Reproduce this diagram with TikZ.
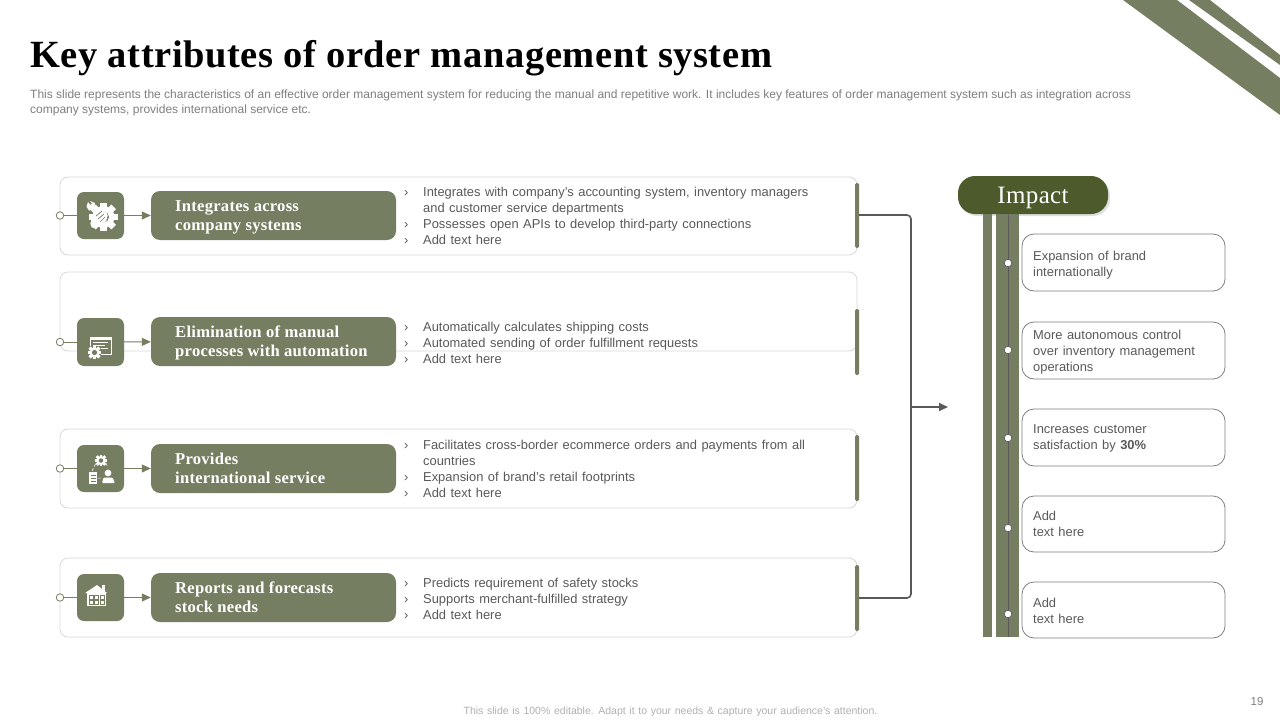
\documentclass[tikz,border=0pt]{standalone}
\usepackage{fontspec}
\setmainfont{Liberation Sans}[WordSpace=1.25]
\newfontfamily\plainsans{Liberation Sans}[WordSpace=1.0]
\newfontfamily\headserif{Liberation Serif}[LetterSpace=1.5]
\usetikzlibrary{shadows,arrows.meta}
\definecolor{olive}{HTML}{767E62}
\definecolor{darkolive}{HTML}{4D5A2B}
\definecolor{cardline}{HTML}{D9D9D9}
\definecolor{bodytext}{HTML}{595959}
\definecolor{subtext}{HTML}{7F7F7F}
\definecolor{conn}{HTML}{595959}
\definecolor{footgray}{HTML}{B0B0B0}
\newcommand{\gearicon}[4]{% x y radius holecolour
  \foreach \a in {0,45,...,315}{\fill[white,rotate around={\a:(#1,#2)}] (#1-#3*0.28,#2-#3*1.3) rectangle (#1+#3*0.28,#2+#3*1.3);}
  \fill[white] (#1,#2) circle (#3);
  \fill[#4] (#1,#2) circle (#3*0.5);}
\tikzset{
  x=1pt,y=-1pt,
  card/.style={draw=cardline,line width=0.8pt,fill=white,rounded corners=8pt},
  tile/.style={fill=olive,rounded corners=7pt,draw=none},
  labelbox/.style={fill=olive,rounded corners=9pt,draw=none},
  accent/.style={fill=olive,rounded corners=1.5pt,draw=none},
  labeltext/.style={text=white,anchor=north west,inner sep=0pt,align=left,font=\headserif\bfseries\fontsize{16.6}{19}\selectfont},
  bodyblock/.style={text=bodytext,anchor=north west,inner sep=0pt,align=left,font=\fontsize{12.9}{16}\selectfont},
  dotnode/.style={circle,draw=olive,fill=white,line width=0.8pt,inner sep=0pt,minimum size=7.5pt},
  railstub/.style={draw=olive,line width=1pt},
  tiparrow/.style={draw=olive,line width=1pt,-{Triangle[length=9pt,width=8pt]}},
  linkline/.style={draw=conn,line width=1.6pt,rounded corners=4pt},
  impactbox/.style={draw=subtext,line width=0.8pt,fill=white,rounded corners=12pt},
  impacttext/.style={text=bodytext,anchor=north west,inner sep=0pt,align=left,font=\fontsize{12.9}{16}\selectfont},
  raildot/.style={circle,draw=conn,fill=white,line width=0.6pt,inner sep=0pt,minimum size=7.5pt},
}
\begin{document}
\begin{tikzpicture}
\useasboundingbox (0,0) rectangle (1280,720);
\fill[white] (0,0) rectangle (1280,720);
% corner bands
\fill[olive] (1123,0) -- (1177,0) -- (1280,78) -- (1280,115) -- cycle;
\fill[olive] (1189,0) -- (1210,0) -- (1280,55) -- (1280,65) -- cycle;
% heading
\node[anchor=base west,inner sep=0pt,font=\headserif\bfseries\fontsize{38.5}{40}\selectfont] (title) at (30,67) {Key attributes of order management system};
\node[anchor=north west,inner sep=0pt,text=subtext,align=left,font=\plainsans\fontsize{12}{14.5}\selectfont] (sub) at (30,90) {This slide represents the characteristics of an effective order management system for reducing the manual and repetitive work. It includes key features of order management system such as integration across\\company systems, provides international service etc.};
% cards
\path[card] (60,177) rectangle (857,255);
\path[card] (60,272) rectangle (857,351);
\path[card] (60,429) rectangle (857,508);
\path[card] (60,558) rectangle (857,637);
% accent bars
\path[accent] (855,183) rectangle (859,248);
\path[accent] (855,309) rectangle (859,375);
\path[accent] (855,435) rectangle (859,501);
\path[accent] (855,565) rectangle (859,631);
% tiles, labels
\node[tile,minimum width=47pt,minimum height=47pt,inner sep=0pt] (tile1) at (100.5,215.5) {};
\node[tile,minimum width=47pt,minimum height=48pt,inner sep=0pt] (tile2) at (100.5,342) {};
\node[tile,minimum width=47pt,minimum height=47pt,inner sep=0pt] (tile3) at (100.5,468.5) {};
\node[tile,minimum width=47pt,minimum height=47pt,inner sep=0pt] (tile4) at (100.5,597.5) {};
\node[labelbox,minimum width=245pt,minimum height=49pt,inner sep=0pt] (lab1) at (273.5,215.5) {};
\node[labelbox,minimum width=245pt,minimum height=49pt,inner sep=0pt] (lab2) at (273.5,341.5) {};
\node[labelbox,minimum width=245pt,minimum height=49pt,inner sep=0pt] (lab3) at (273.5,468.5) {};
\node[labelbox,minimum width=245pt,minimum height=49pt,inner sep=0pt] (lab4) at (273.5,597.5) {};
\node[dotnode] (dot1) at (60,215.5) {};
\node[dotnode] (dot2) at (60,342) {};
\node[dotnode] (dot3) at (60,468.5) {};
\node[dotnode] (dot4) at (60,597.5) {};
\foreach \i in {1,2,3,4}{
  \draw[railstub] (dot\i) -- (tile\i);
  \draw[tiparrow] (tile\i) -- (lab\i);
}
\node[labeltext] (t1) at (175,200) {Integrates across\\company systems};
\node[labeltext] (t2) at (175,326) {Elimination of manual\\processes with automation};
\node[labeltext] (t3) at (175,453) {Provides\\international service};
\node[labeltext] (t4) at (175,582) {Reports and forecasts\\stock needs};
% body text
\newcommand{\blt}{\makebox[19pt][l]{›}}
\newcommand{\noblt}{\hspace*{19pt}}
\node[bodyblock] (b1) at (404,186.5) {\blt Integrates with company’s accounting system, inventory managers\\\noblt and customer service departments\\\blt Possesses open APIs to develop third-party connections\\\blt Add text here};
\node[bodyblock] (b2) at (404,321.5) {\blt Automatically calculates shipping costs\\\blt Automated sending of order fulfillment requests\\\blt Add text here};
\node[bodyblock] (b3) at (404,439.5) {\blt Facilitates cross-border ecommerce orders and payments from all\\\noblt countries\\\blt Expansion of brand’s retail footprints\\\blt Add text here};
\node[bodyblock] (b4) at (404,577.5) {\blt Predicts requirement of safety stocks\\\blt Supports merchant-fulfilled strategy\\\blt Add text here};
% bracket
\coordinate (elbow1) at (911,215);
\coordinate (elbow4) at (911,598);
\coordinate (mid) at (911,407);
\coordinate (midend) at (948,407);
\draw[linkline] (859,215) -- (elbow1) -- (elbow4) -- (859,598);
\draw[draw=conn,line width=1.6pt,-{Triangle[length=9pt,width=8pt]}] (mid) -- (midend);
% rails
\fill[olive] (983,210) rectangle (992,637);
\fill[olive] (996,210) rectangle (1019,637);
\draw[conn,line width=0.9pt] (1008,210) -- (1008,637);
% impact pill
\node[fill=darkolive,rounded corners=17pt,minimum width=150pt,minimum height=38pt,inner sep=0pt,text=white,font=\headserif\fontsize{25}{28}\selectfont,drop shadow={shadow xshift=2pt,shadow yshift=-2pt,opacity=.25}] (impact) at (1033,195) {\raisebox{-5pt}[11pt][5pt]{Impact}};
% impact boxes
\path[impactbox] (1022,234) rectangle (1225,291);
\path[impactbox] (1022,322) rectangle (1225,379);
\path[impactbox] (1022,409) rectangle (1225,466);
\path[impactbox] (1022,496) rectangle (1225,552);
\path[impactbox] (1022,582) rectangle (1225,638);
\node[raildot] (r1) at (1008,263) {};
\node[raildot] (r2) at (1008,350) {};
\node[raildot] (r3) at (1008,438) {};
\node[raildot] (r4) at (1008,528) {};
\node[raildot] (r5) at (1008,614) {};
\node[impacttext] (i1) at (1033,250.5) {Expansion of brand\\internationally};
\node[impacttext] (i2) at (1033,329.5) {More autonomous control\\over inventory management\\operations};
\node[impacttext] (i3) at (1033,424.5) {Increases customer\\satisfaction by \textbf{30\%}};
\node[impacttext] (i4) at (1033,510.5) {Add\\text here};
\node[impacttext] (i5) at (1033,597.5) {Add\\text here};
% footer
\node[text=footgray,inner sep=0pt,font=\fontsize{10.5}{12}\selectfont] (foot) at (670.5,711.5) {This slide is 100\% editable. Adapt it to your needs \& capture your audience’s attention.};
\node[text=subtext,inner sep=0pt,font=\fontsize{11.5}{12}\selectfont] (page) at (1257,702) {19};
% icon 1: gear, wrench, hand
\gearicon{103.5}{217}{11}{olive}
\draw[white,line width=3.2pt] (90,207) -- (100,217);
\fill[white] (86.5,206.5) -- (88,202) -- (90.5,205) -- (92,203.5) -- (90,201) -- (95,203) -- (94,209) -- (89,210.5) -- cycle;
\fill[white,rounded corners=1.5pt] (90,225) -- (93,214) -- (100,208.5) -- (108,214) -- (106,222) -- (98,224) -- (94,229) -- cycle;
\draw[olive,line width=.7pt] (96,216) -- (102,211) (98,219) -- (104,214) (100,222) -- (105,217);
% icon 2: monitor and gear
\draw[white,line width=.9pt] (90.5,337.5) rectangle (111,354);
\fill[white] (90,337) rectangle (111.5,339.5);
\draw[white,line width=.7pt] (93,342.5) -- (108,342.5) (93,345.5) -- (105,345.5) (93,348.5) -- (108,348.5);
\fill[olive] (86,346) rectangle (101,361);
\gearicon{94.5}{352.5}{5.2}{olive}
% icon 3: gear, clipboard, person
\gearicon{101}{460.5}{4.5}{olive}
\fill[white] (89,472) rectangle (97,484);
\draw[olive,line width=.6pt] (90.5,475) -- (95.5,475) (90.5,478) -- (95.5,478) (90.5,481) -- (95.5,481);
\fill[white] (108,473) circle (3.4);
\fill[white,rounded corners=1pt] (102,483) -- (103.5,477.5) -- (112.5,477.5) -- (115,483) -- cycle;
\draw[white,line width=.5pt,densely dashed] (92,471) -- (96,463) (106,463) -- (108,468) (98,478) -- (102,478);
% icon 4: house
\fill[white] (85,593) -- (97,585) -- (107,593) -- cycle;
\fill[white] (102,585) rectangle (105,591);
\fill[white] (87,593) rectangle (106,606);
\foreach \cx in {89,94.5,100}\foreach \cy in {595.5,600.5}{\draw[olive,line width=.6pt] (\cx,\cy) rectangle ++(4,3.5);}
\end{tikzpicture}
\end{document}
